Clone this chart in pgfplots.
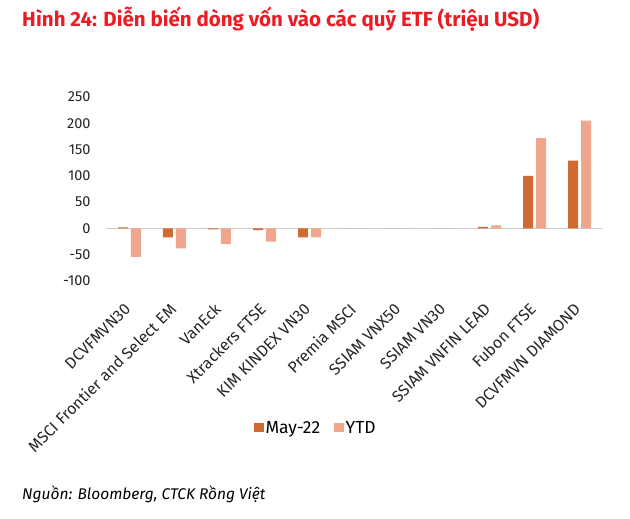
\documentclass[border=0pt]{standalone}
\usepackage{pgfplots}
\pgfplotsset{compat=1.18}
\usepackage{fontspec}
\setmainfont{Fira Sans}
\definecolor{maycol}{RGB}{208,106,48}
\definecolor{ytdcol}{RGB}{240,166,140}
\definecolor{titred}{RGB}{236,28,36}
\begin{document}
\begin{tikzpicture}
\path[use as bounding box, fill=white] (0pt,0pt) rectangle (630pt,-519pt);
\node[anchor=base west, inner sep=0, font=\fontsize{20.5}{24}\selectfont\bfseries, text=titred] at (22pt,-27pt) {Hình 24: Diễn biến dòng vốn vào các quỹ ETF (triệu USD)};
\node[anchor=base west, inner sep=0, font=\fontsize{15.5}{18}\selectfont\itshape] at (22pt,-499pt) {Nguồn: Bloomberg, CTCK Rồng Việt};
\begin{axis}[
    at={(107pt,-281pt)}, anchor=south west,
    scale only axis, width=495pt, height=184pt,
    ymin=-100, ymax=250, xmin=-0.5, xmax=10.5,
    ytick={-100,-50,0,50,100,150,200,250},
    axis line style={draw=none},
    major tick length=0pt,
    ybar=3pt, bar width=10pt,
    xtick=data,
    xticklabels={DCVFMVN30, MSCI Frontier and Select EM, VanEck, Xtrackers FTSE, KIM KINDEX VN30, Premia MSCI, SSIAM VNX50, SSIAM VN30, SSIAM VNFIN LEAD, Fubon FTSE, DCVFMVN DIAMOND},
    x tick label style={xshift=-6pt, yshift=-21pt, rotate=45, anchor=north east, font=\fontsize{16}{18}\selectfont, inner sep=0pt, text=black!85},
    y tick label style={font=\fontsize{14.5}{16}\selectfont, xshift=-13pt, text=black!85},
    /pgf/number format/assume math mode=true,
    legend columns=2,
    legend style={at={(0.422,-0.8)}, anchor=center, draw=none, font=\fontsize{17.5}{20}\selectfont,
      /tikz/every even column/.append style={column sep=12pt}},
    legend image code/.code={\fill[#1] (0pt,-4pt) rectangle (9.5pt,5.5pt);},
]
\draw[gray!40, line width=1.2pt] (axis cs:-0.5,0) -- (axis cs:10.5,0);
\addplot[fill=maycol, draw=none] coordinates {
 (0,2) (1,-17) (2,-2) (3,-3) (4,-17) (5,0) (6,0) (7,0) (8,3) (9,100) (10,129)};
\addlegendentry{May-22}
\addplot[fill=ytdcol, draw=none] coordinates {
 (0,-54) (1,-38) (2,-30) (3,-25) (4,-17) (5,0) (6,0) (7,0) (8,6) (9,172) (10,205)};
\addlegendentry{YTD}
\end{axis}
\end{tikzpicture}
\end{document}
